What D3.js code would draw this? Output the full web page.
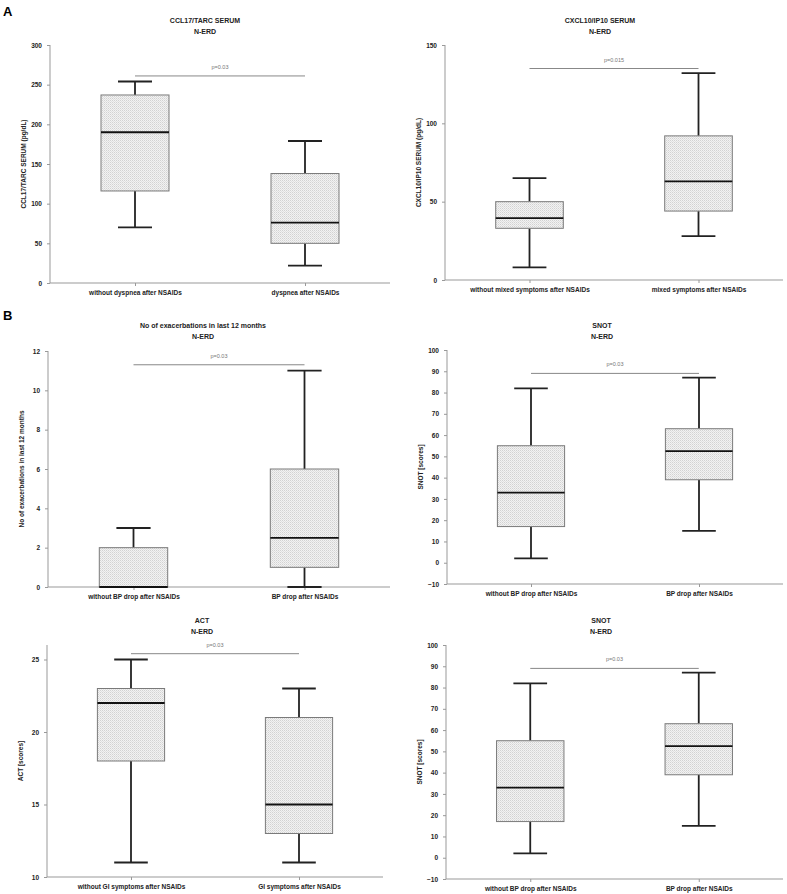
<!DOCTYPE html>
<html>
<head>
<meta charset="utf-8">
<script src="https://cdn.jsdelivr.net/npm/d3@7"></script>
<style>
  body { margin: 0; background: #fff; }
  svg text { font-family: "Liberation Sans", Arial, sans-serif; }
</style>
</head>
<body>
<script>
// box stats are [min, q1, median, q3, max]
var ccl17Groups = ['without dyspnea after NSAIDs', 'dyspnea after NSAIDs'];
var ccl17Stats = [[70, 116, 190, 237, 254], [22, 50, 76, 138, 179]];
var ccl17Ticks = [0, 50, 100, 150, 200, 250, 300];

var cxcl10Groups = ['without mixed symptoms after NSAIDs', 'mixed symptoms after NSAIDs'];
var cxcl10Stats = [[8, 33, 39.5, 50, 65], [28, 44, 63, 92, 132]];
var cxcl10Ticks = [0, 50, 100, 150];

var exacGroups = ['without BP drop after NSAIDs', 'BP drop after NSAIDs'];
var exacStats = [[0, 0, 0, 2, 3], [0, 1, 2.5, 6, 11]];
var exacTicks = [0, 2, 4, 6, 8, 10, 12];

var snotGroups = ['without BP drop after NSAIDs', 'BP drop after NSAIDs'];
var snotStats = [[2, 17, 33, 55, 82], [15, 39, 52.5, 63, 87]];
var snotTicks = [-10, 0, 10, 20, 30, 40, 50, 60, 70, 80, 90, 100];

var actGroups = ['without GI symptoms after NSAIDs', 'GI symptoms after NSAIDs'];
var actStats = [[11, 18, 22, 23, 25], [11, 13, 15, 21, 23]];
var actTicks = [10, 15, 20, 25];

var pValues = ['p=0.03', 'p=0.015', 'p=0.03', 'p=0.03', 'p=0.03', 'p=0.03'];
var pLineLevels = [261, 135, 11.3, 89, 25.4, 89];

var width = 787;
var height = 894;

var svg = d3.select('body').append('svg')
            .attr('width', width)
            .attr('height', height);

var defs = svg.append('defs');
var pat = defs.append('pattern')
              .attr('id', 'dots')
              .attr('width', 2)
              .attr('height', 2)
              .attr('patternUnits', 'userSpaceOnUse');
pat.append('rect').attr('width', 2).attr('height', 2).attr('fill', '#f2f2f2');
pat.append('rect').attr('width', 1).attr('height', 1).attr('fill', '#d2d2d2');
pat.append('rect').attr('x', 1).attr('y', 1).attr('width', 1).attr('height', 1).attr('fill', '#e0e0e0');

var panels = [
  {title: 'CCL17/TARC SERUM', ylab: 'CCL17/TARC SERUM (pg/dL)', groups: ccl17Groups, stats: ccl17Stats,
   ticks: ccl17Ticks, domain: [0, 300], x0: 50, x1: 390, top: 45, bottom: 283, titleY: 23},
  {title: 'CXCL10/IP10 SERUM', ylab: 'CXCL10/IP10 SERUM (pg/dL)', groups: cxcl10Groups, stats: cxcl10Stats,
   ticks: cxcl10Ticks, domain: [0, 150], x0: 445, x1: 783, top: 45, bottom: 280, titleY: 23},
  {title: 'No of exacerbations in last 12 months', ylab: 'No of exacerbations in last 12 months', groups: exacGroups,
   stats: exacStats, ticks: exacTicks, domain: [0, 12], x0: 48, x1: 390, top: 351, bottom: 587, titleY: 328},
  {title: 'SNOT', ylab: 'SNOT [scores]', groups: snotGroups, stats: snotStats,
   ticks: snotTicks, domain: [-10, 100], x0: 447, x1: 783, top: 350, bottom: 584, titleY: 328},
  {title: 'ACT', ylab: 'ACT [scores]', groups: actGroups, stats: actStats,
   ticks: actTicks, domain: [10, 26], x0: 47, x1: 383, top: 645, bottom: 877, titleY: 623},
  {title: 'SNOT', ylab: 'SNOT [scores]', groups: snotGroups, stats: snotStats,
   ticks: snotTicks, domain: [-10, 100], x0: 446, x1: 783, top: 645, bottom: 879, titleY: 623}
];

panels.forEach(function(p, i) {
  var g = svg.append('g');

  var x = d3.scalePoint().domain(p.groups).range([p.x0, p.x1]).padding(0.5);
  var y = d3.scaleLinear().domain(p.domain).range([p.bottom, p.top]);
  var step = x.step();
  var boxW = step * 0.4;
  var capW = step * 0.2;

  // titles
  g.append('text').attr('x', p.x0 + 155).attr('y', p.titleY)
   .attr('text-anchor', 'middle').attr('font-size', 7).attr('font-weight', 'bold')
   .attr('fill', '#222').text(p.title);
  g.append('text').attr('x', p.x0 + 155).attr('y', p.titleY + 11)
   .attr('text-anchor', 'middle').attr('font-size', 7).attr('font-weight', 'bold')
   .attr('fill', '#222').text('N-ERD');

  // axes
  var yAxis = g.append('g').attr('transform', 'translate(' + p.x0 + ',0)')
               .call(d3.axisLeft(y).tickValues(p.ticks).tickSize(3).tickPadding(5).tickSizeOuter(0));
  var xAxis = g.append('g').attr('transform', 'translate(0,' + p.bottom + ')')
               .call(d3.axisBottom(x).tickSize(3).tickPadding(4).tickSizeOuter(0));
  [yAxis, xAxis].forEach(function(a) {
    a.select('.domain').attr('stroke', '#999').attr('stroke-width', 1);
    a.selectAll('.tick line').attr('stroke', '#999');
    a.selectAll('.tick text').attr('fill', '#222').attr('font-weight', 'bold')
     .attr('font-size', 6.5).attr('font-family', '"Liberation Sans", Arial, sans-serif');
  });
  // y axis line runs right to the x axis
  yAxis.select('.domain').attr('d', 'M0,' + p.top + 'V' + p.bottom);
  xAxis.select('.domain').attr('d', 'M' + p.x0 + ',0H' + p.x1);

  g.append('text')
   .attr('transform', 'translate(' + (p.x0 - 24) + ',' + ((p.top + p.bottom) / 2) + ') rotate(-90)')
   .attr('text-anchor', 'middle').attr('font-size', 6.5).attr('font-weight', 'bold')
   .attr('fill', '#222').text(p.ylab);

  // p-value bracket
  var py = y(pLineLevels[i]);
  g.append('line').attr('x1', x(p.groups[0])).attr('x2', x(p.groups[1]))
   .attr('y1', py).attr('y2', py).attr('stroke', '#888').attr('stroke-width', 1);
  g.append('text').attr('x', (x(p.groups[0]) + x(p.groups[1])) / 2).attr('y', py - 7)
   .attr('text-anchor', 'middle').attr('font-size', 5.5).attr('fill', '#777').text(pValues[i]);

  // boxes
  var boxes = g.selectAll('.box').data(p.stats).enter().append('g').attr('class', 'box');
  boxes.each(function(d, j) {
    var b = d3.select(this);
    var cx = x(p.groups[j]);
    b.append('line').attr('x1', cx).attr('x2', cx).attr('y1', y(d[0])).attr('y2', y(d[1]))
     .attr('stroke', '#222').attr('stroke-width', 1.8);
    b.append('line').attr('x1', cx).attr('x2', cx).attr('y1', y(d[3])).attr('y2', y(d[4]))
     .attr('stroke', '#222').attr('stroke-width', 1.8);
    b.append('line').attr('x1', cx - capW / 2).attr('x2', cx + capW / 2).attr('y1', y(d[0])).attr('y2', y(d[0]))
     .attr('stroke', '#222').attr('stroke-width', 1.8);
    b.append('line').attr('x1', cx - capW / 2).attr('x2', cx + capW / 2).attr('y1', y(d[4])).attr('y2', y(d[4]))
     .attr('stroke', '#222').attr('stroke-width', 1.8);
    b.append('rect').attr('x', cx - boxW / 2).attr('width', boxW)
     .attr('y', y(d[3])).attr('height', y(d[1]) - y(d[3]))
     .attr('fill', 'url(#dots)').attr('stroke', '#7a7a7a').attr('stroke-width', 1);
    b.append('line').attr('x1', cx - boxW / 2).attr('x2', cx + boxW / 2).attr('y1', y(d[2])).attr('y2', y(d[2]))
     .attr('stroke', '#111').attr('stroke-width', 1.8);
  });
});

svg.append('text').attr('x', 3).attr('y', 16).attr('font-size', 13).attr('font-weight', 'bold')
   .attr('font-family', '"Liberation Sans", Arial, sans-serif').text('A');
svg.append('text').attr('x', 3).attr('y', 320).attr('font-size', 13).attr('font-weight', 'bold')
   .attr('font-family', '"Liberation Sans", Arial, sans-serif').text('B');
</script>
</body>
</html>
